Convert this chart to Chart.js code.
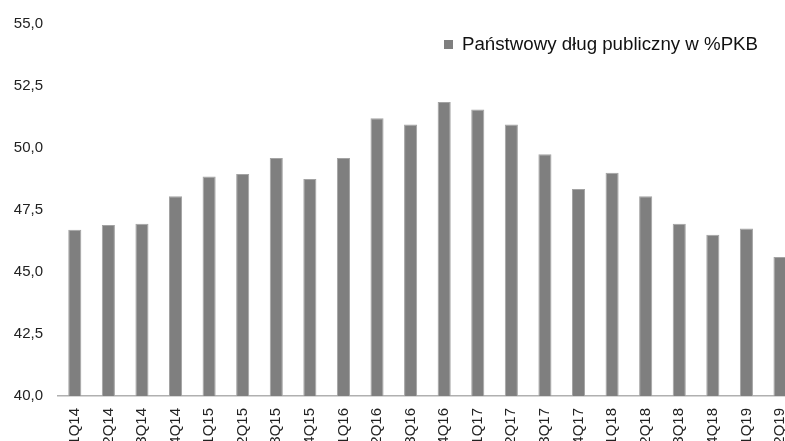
<!DOCTYPE html>
<html>
<head>
<meta charset="utf-8">
<script src="https://cdn.jsdelivr.net/npm/chart.js@4"></script>
<style>
  html, body { margin: 0; padding: 0; background: #fff; overflow: hidden; }
  #wrap { width: 785px; height: 441px; overflow: hidden; position: relative; }
</style>
</head>
<body>
<div id="wrap">
  <canvas id="wykres" width="810" height="460"></canvas>
</div>
<script>
// ------------ Dane ------------ //

var kwartaly = ['1Q14', '2Q14', '3Q14', '4Q14', '1Q15', '2Q15', '3Q15', '4Q15',
    '1Q16', '2Q16', '3Q16', '4Q16', '1Q17', '2Q17', '3Q17', '4Q17',
    '1Q18', '2Q18', '3Q18', '4Q18', '1Q19', '2Q19'];

var dlugPKB = [46.7, 46.9, 46.95, 48.05, 48.85, 48.95, 49.6, 48.75,
    49.6, 51.2, 50.95, 51.85, 51.55, 50.95, 49.75, 48.35,
    49.0, 48.05, 46.95, 46.5, 46.75, 45.6];

var etykietaSerii = 'Państwowy dług publiczny w %PKB';

var osY = { min: 40, max: 55, krok: 2.5 };

// ------------ Legenda rysowana w obszarze wykresu ------------ //

var legendaWPolu = {
    id: 'legendaWPolu',
    afterDraw: function (chart) {
        var ctx = chart.ctx;
        var ds = chart.data.datasets[0];
        ctx.save();
        ctx.fillStyle = ds.backgroundColor;
        ctx.fillRect(444, 40, 9, 9);
        ctx.fillStyle = '#111';
        ctx.font = '18.7px "Liberation Sans", Arial, sans-serif';
        ctx.textBaseline = 'middle';
        ctx.fillText(ds.label, 462, 45);
        ctx.restore();
    }
};

// ------------ Konfiguracja wykresu ------------ //

var ctx = document.getElementById('wykres').getContext('2d');
var wykres = new Chart(ctx, {
    type: 'bar',
    data: {
        labels: kwartaly,
        datasets: [{
            label: etykietaSerii,
            data: dlugPKB,
            backgroundColor: '#7f7f7f',
            borderColor: '#a3a3a3',
            borderWidth: 1,
            barPercentage: 0.39,
            categoryPercentage: 1.0
        }]
    },
    options: {
        responsive: false,
        animation: false,
        layout: { padding: { top: 24, left: 0, right: 0, bottom: 0 } },
        plugins: {
            legend: { display: false },
            tooltip: { enabled: false }
        },
        scales: {
            x: {
                grid: { display: false, drawTicks: false },
                border: { display: true, color: '#b0b0b0', width: 1.5 },
                ticks: {
                    minRotation: 90,
                    maxRotation: 90,
                    padding: 12,
                    color: '#222',
                    font: { family: '"Liberation Sans", Arial, sans-serif', size: 15 }
                },
                afterFit: function (scale) { scale.height = 460 - 396; }
            },
            y: {
                min: osY.min,
                max: osY.max,
                grid: { display: false, drawTicks: false },
                border: { display: false },
                ticks: {
                    stepSize: osY.krok,
                    padding: 15,
                    color: '#222',
                    font: { family: '"Liberation Sans", Arial, sans-serif', size: 15 },
                    callback: function (v) { return v.toFixed(1).replace('.', ','); }
                },
                afterFit: function (scale) { scale.width = 58; }
            }
        }
    },
    plugins: [legendaWPolu]
});
</script>
</body>
</html>
